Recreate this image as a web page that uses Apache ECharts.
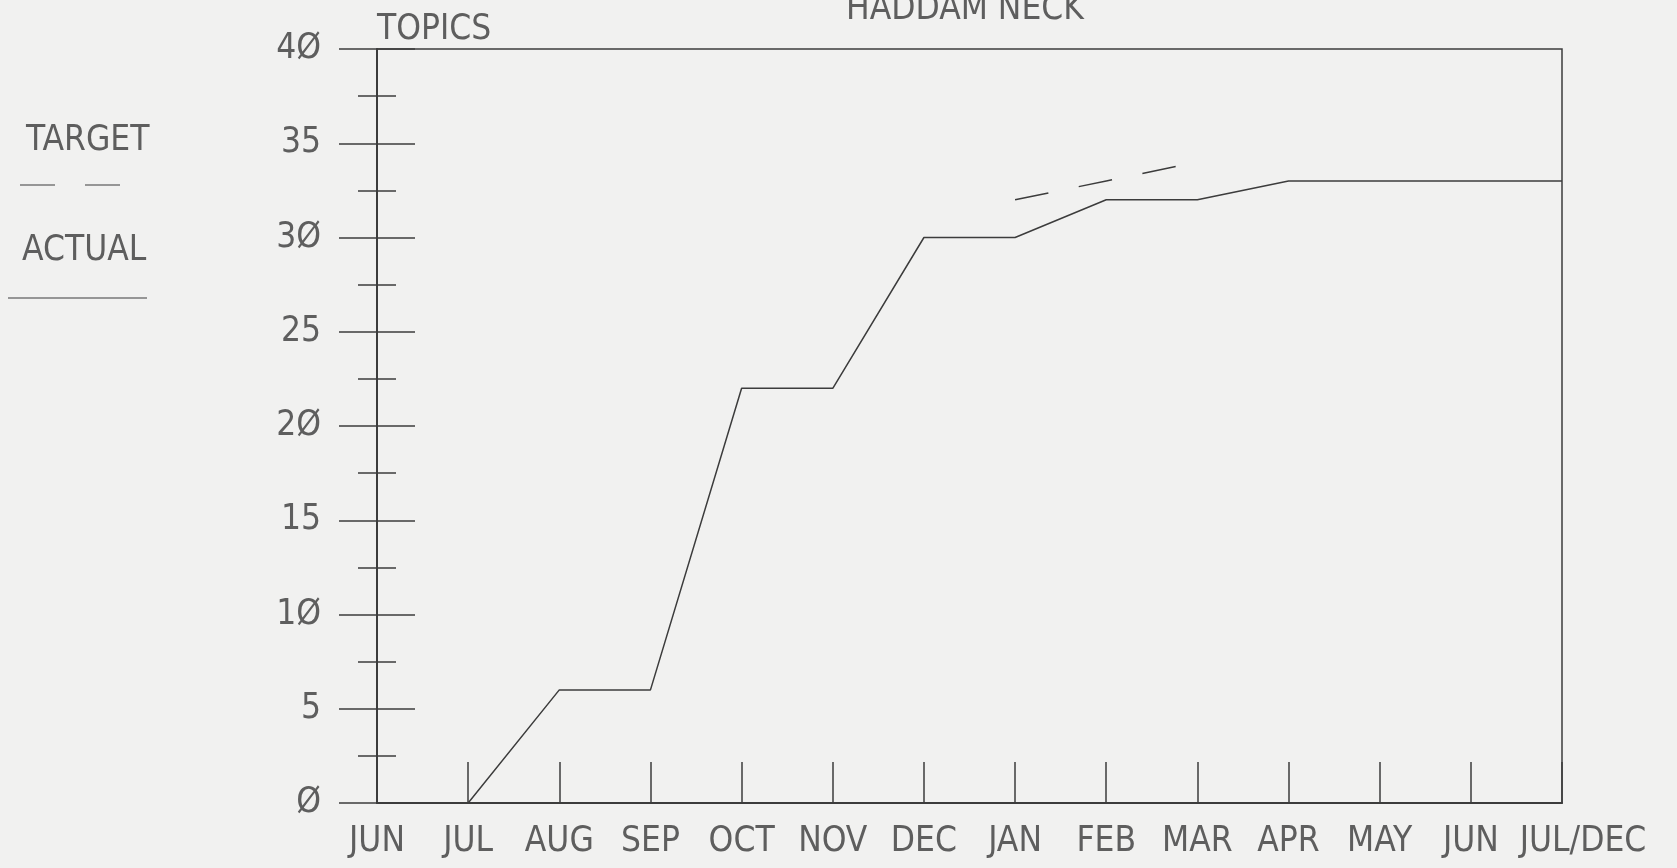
<!DOCTYPE html>
<html>
<head>
<meta charset="utf-8">
<title>Haddam Neck</title>
<script src="https://cdn.jsdelivr.net/npm/echarts@6/dist/echarts.min.js"></script>
<style>
  html, body { margin: 0; padding: 0; background: #f1f1f0; }
  #chart { width: 1677px; height: 868px; }
</style>
</head>
<body>
<div id="chart"></div>
<script>
// months along the bottom (first JUN .. JUL/DEC)
const months = ['JUN', 'JUL', 'AUG', 'SEP', 'OCT', 'NOV', 'DEC', 'JAN', 'FEB', 'MAR', 'APR', 'MAY', 'JUN', 'JUL/DEC']
// topics completed
const actual = [null, 0, 6, 6, 22, 22, 30, 30, 32, 32, 33, 33, 33, 33]
// target line, only JAN..MAR
const target = [null, null, null, null, null, null, null, 32, 33, 34, null, null, null, null]
const yTicks = [0, 5, 10, 15, 20, 25, 30, 35, 40]

const ink = '#3c3c3c'
const textInk = '#5e5e5e'
const font = '"DejaVu Sans Condensed", "Liberation Sans Narrow", "Liberation Sans", sans-serif'
const fontSize = 35

let chart = echarts.init(document.getElementById('chart'))

// plotter drew zeros slashed
function slashZero(v) {
  return String(v).replace(/0/g, 'Ø')
}

function label(text, x, y) {
  return {
    type: 'text',
    x: x,
    y: y,
    style: { text: text, fill: textInk, font: fontSize + 'px ' + font, align: 'left', verticalAlign: 'top' }
  }
}

chart.setOption({
  animation: false,
  backgroundColor: '#f1f1f0',
  grid: {
    left: 377,
    right: 115,
    top: 49,
    bottom: 65,
    show: true,
    borderColor: ink,
    borderWidth: 1.5
  },
  xAxis: {
    type: 'category',
    data: months,
    boundaryGap: false,
    axisLine: { lineStyle: { color: ink, width: 2 } },
    axisTick: { inside: true, length: 41, alignWithLabel: true, lineStyle: { color: ink, width: 1.5 } },
    axisLabel: {
      margin: 21,
      color: textInk,
      fontFamily: font,
      fontSize: fontSize,
      interval: 0,
      formatter: function (v, i) {
        return i === months.length - 1 ? '{last|' + v + '}' : v
      },
      rich: {
        last: { padding: [0, 0, 0, 42], color: textInk, fontFamily: font, fontSize: fontSize }
      }
    },
    splitLine: { show: false }
  },
  yAxis: [
    {
      type: 'value',
      position: 'left',
      min: yTicks[0],
      max: yTicks[yTicks.length - 1],
      interval: 5,
      axisLine: { show: true, lineStyle: { color: ink, width: 2 } },
      axisTick: { show: true, length: 38, lineStyle: { color: ink, width: 1.5 } },
      minorTick: { show: true, splitNumber: 2, length: 19, lineStyle: { color: ink, width: 1.5 } },
      axisLabel: {
        margin: 56,
        color: textInk,
        fontFamily: font,
        fontSize: fontSize,
        formatter: slashZero
      },
      splitLine: { show: false }
    },
    {
      // second copy only for the ticks that cross into the plot
      type: 'value',
      position: 'left',
      min: yTicks[0],
      max: yTicks[yTicks.length - 1],
      interval: 5,
      axisLine: { show: false },
      axisTick: { show: true, inside: true, length: 38, lineStyle: { color: ink, width: 1.5 } },
      minorTick: { show: true, splitNumber: 2, length: 19, lineStyle: { color: ink, width: 1.5 } },
      axisLabel: { show: false },
      splitLine: { show: false }
    }
  ],
  series: [
    {
      name: 'ACTUAL',
      type: 'line',
      yAxisIndex: 0,
      data: actual,
      symbol: 'none',
      lineStyle: { color: ink, width: 1.5 }
    },
    {
      name: 'TARGET',
      type: 'line',
      yAxisIndex: 0,
      data: target,
      symbol: 'none',
      lineStyle: { color: ink, width: 1.5, type: [34, 31] }
    }
  ],
  graphic: [
    {
      type: 'text',
      x: 965,
      y: -8,
      style: { text: 'HADDAM NECK', fill: textInk, font: fontSize + 'px ' + font, align: 'center', verticalAlign: 'top' }
    },
    label('TOPICS', 377, 12),
    label('TARGET', 26, 123),
    {
      type: 'line',
      shape: { x1: 20, y1: 185, x2: 120, y2: 185 },
      style: { stroke: ink, lineWidth: 1.2, lineDash: [35, 30] }
    },
    label('ACTUAL', 22, 233),
    {
      type: 'line',
      shape: { x1: 8, y1: 298, x2: 147, y2: 298 },
      style: { stroke: ink, lineWidth: 1.2 }
    }
  ]
})
</script>
</body>
</html>
